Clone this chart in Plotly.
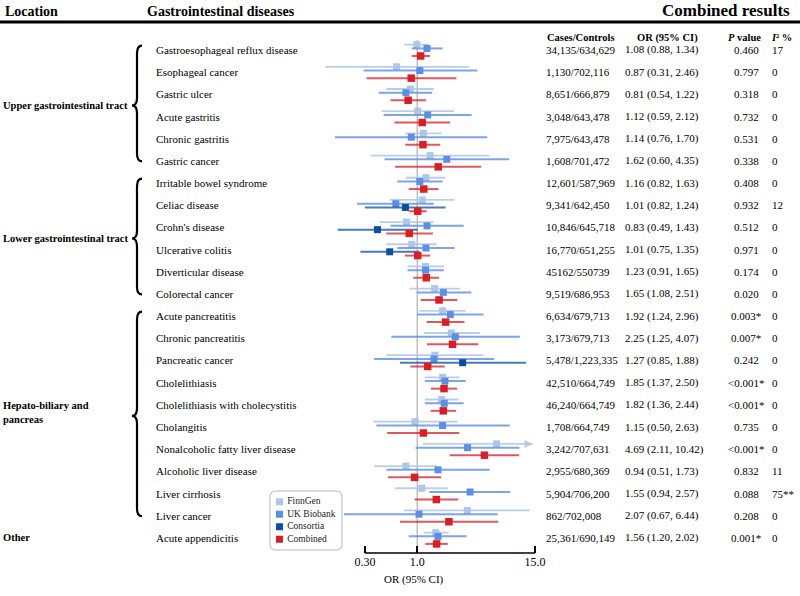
import math
import plotly.graph_objects as go

# ---- data ----
diseases = ["Gastroesophageal reflux disease", "Esophageal cancer", "Gastric ulcer", "Acute gastritis",
            "Chronic gastritis", "Gastric cancer", "Irritable bowel syndrome", "Celiac disease",
            "Crohn's disease", "Ulcerative colitis", "Diverticular disease", "Colorectal cancer",
            "Acute pancreatitis", "Chronic pancreatitis", "Pancreatic cancer", "Cholelithiasis",
            "Cholelithiasis with cholecystitis", "Cholangitis", "Nonalcoholic fatty liver disease",
            "Alcoholic liver disease", "Liver cirrhosis", "Liver cancer", "Acute appendicitis"]

cases_controls = ["34,135/634,629", "1,130/702,116", "8,651/666,879", "3,048/643,478", "7,975/643,478",
                  "1,608/701,472", "12,601/587,969", "9,341/642,450", "10,846/645,718", "16,770/651,255",
                  "45162/550739", "9,519/686,953", "6,634/679,713", "3,173/679,713", "5,478/1,223,335",
                  "42,510/664,749", "46,240/664,749", "1,708/664,749", "3,242/707,631", "2,955/680,369",
                  "5,904/706,200", "862/702,008", "25,361/690,149"]

comb_or = [1.08, 0.87, 0.81, 1.12, 1.14, 1.62, 1.16, 1.01, 0.83, 1.01, 1.23, 1.65,
           1.92, 2.25, 1.27, 1.85, 1.82, 1.15, 4.69, 0.94, 1.55, 2.07, 1.56]
comb_lo = [0.88, 0.31, 0.54, 0.59, 0.76, 0.60, 0.82, 0.82, 0.49, 0.75, 0.91, 1.08,
           1.24, 1.25, 0.85, 1.37, 1.36, 0.50, 2.11, 0.51, 0.94, 0.67, 1.20]
comb_hi = [1.34, 2.46, 1.22, 2.12, 1.70, 4.35, 1.63, 1.24, 1.43, 1.35, 1.65, 2.51,
           2.96, 4.07, 1.88, 2.50, 2.44, 2.63, 10.42, 1.73, 2.57, 6.44, 2.02]
p_values = ["0.460", "0.797", "0.318", "0.732", "0.531", "0.338", "0.408", "0.932", "0.512", "0.971",
            "0.174", "0.020", "0.003*", "0.007*", "0.242", "<0.001*", "<0.001*", "0.735", "<0.001*",
            "0.832", "0.088", "0.208", "0.001*"]
i2 = ["17", "0", "0", "0", "0", "0", "0", "12", "0", "0", "0", "0",
      "0", "0", "0", "0", "0", "0", "0", "11", "75**", "0", "0"]

fin_or = [0.99, 0.62, 0.85, 1.01, 1.15, 1.34, 1.22, 1.12, 0.78, 0.88, 1.21, 1.49,
          1.79, 2.19, 1.50, 1.79, 1.75, 0.95, 6.2, 0.77, 1.11, 3.16, 1.53]
fin_lo = [0.74, 0.12, 0.49, 0.44, 0.76, 0.34, 0.77, 0.53, 0.42, 0.49, 0.80, 0.84,
          1.05, 1.17, 0.49, 1.19, 1.19, 0.36, 1.14, 0.37, 0.60, 0.74, 1.16]
fin_hi = [1.29, 3.28, 1.47, 2.33, 1.75, 5.25, 1.92, 2.36, 1.46, 1.56, 1.86, 2.65,
          3.05, 4.24, 4.60, 2.65, 2.58, 2.53, 14.2, 1.56, 2.01, 13.4, 2.06]

ukb_or = [1.25, 1.06, 0.77, 1.27, 0.87, 1.97, 1.06, 0.61, 1.25, 1.22, 1.21, 1.82,
          2.14, 2.40, 1.47, 1.89, 1.86, 1.79, 3.18, 1.61, 3.37, 1.04, 1.61]
ukb_lo = [0.88, 0.29, 0.41, 0.46, 0.15, 0.47, 0.63, 0.25, 0.54, 0.63, 0.80, 0.99,
          1.00, 0.55, 0.37, 1.19, 1.19, 0.39, 0.96, 0.49, 1.32, 0.10, 0.82]
ukb_hi = [1.79, 3.98, 1.41, 3.49, 5.00, 8.30, 1.79, 1.46, 2.91, 2.36, 1.84, 3.47,
          4.60, 10.6, 5.85, 3.05, 2.91, 8.40, 10.5, 5.30, 8.50, 6.36, 3.11]

con_names = ["Celiac disease", "Crohn's disease", "Ulcerative colitis", "Pancreatic cancer"]
con_or = [0.76, 0.40, 0.53, 2.84]
con_lo = [0.30, 0.16, 0.27, 0.67]
con_hi = [1.92, 1.01, 1.05, 12.2]

# FinnGen CI truncated with an arrow
arrow_row = "Nonalcoholic fatty liver disease"

groups = [("Upper gastrointestinal tract", 0, 5), ("Lower gastrointestinal tract", 6, 11),
          ("Hepato-biliary and<br>pancreas", 12, 21), ("Other", 22, 22)]

studies = ["FinnGen", "UK Biobank", "Consortia", "Combined"]
marker_col = ["#aec6e8", "#5b8fe3", "#0c4ea2", "#d61f26"]
line_col = ["rgba(174,198,232,0.85)", "rgba(91,143,227,0.8)", "rgba(12,78,162,0.75)", "rgba(214,31,38,0.75)"]
offsets = [-0.24, -0.07, 0.10, 0.27]

FONT = "Liberation Serif"
W, H = 800, 596


def px(x):
    return x / W


def py(y):
    return 1 - y / H


rows = list(range(len(diseases)))
fig = go.Figure()


def add_study(k, orv, lo, hi, yrows, size):
    fig.add_trace(go.Scatter(
        x=orv, y=[r + offsets[k] for r in yrows], mode="markers", name=studies[k],
        marker=dict(symbol="square", size=size, color=marker_col[k]),
        error_x=dict(type="data", symmetric=False,
                     array=[h - o for h, o in zip(hi, orv)],
                     arrayminus=[o - l for o, l in zip(orv, lo)],
                     color=line_col[k], thickness=2 if k else 1.8, width=0),
        showlegend=False))


add_study(0, fin_or, fin_lo, fin_hi, rows, 7)
add_study(1, ukb_or, ukb_lo, ukb_hi, rows, 7)
add_study(2, con_or, con_lo, con_hi, [diseases.index(n) for n in con_names], 7)
add_study(3, comb_or, comb_lo, comb_hi, rows, 7.5)

ar = diseases.index(arrow_row)
fig.add_annotation(x=math.log10(fin_hi[ar]), y=ar + offsets[0], xref="x", yref="y",
                   ax=math.log10(fin_hi[ar]) - 0.05, ay=ar + offsets[0], axref="x", ayref="y",
                   showarrow=True, arrowhead=2, arrowsize=1, arrowwidth=1.6, arrowcolor=line_col[0], text="")

# reference line at OR = 1 and the axis bar between the outer ticks
fig.add_shape(type="line", xref="x", yref="paper", x0=1, x1=1, y0=py(553), y1=py(40),
              line=dict(color="#bdbdbd", width=1.5), layer="below")
fig.add_shape(type="line", xref="x", yref="paper", x0=0.3, x1=15, y0=py(553), y1=py(553),
              line=dict(color="black", width=1.5))

# legend: its own small subplot (x2/y2, 1 unit = 1px across, 1 unit = one entry down)
# the box lives in that subplot's lower shape layer: above the forest lines, below the entries
bx0, bx1, by0, by1, rx, ry = -9.5, 62.5, -0.86, 3.86, 6, 0.48
fig.add_shape(type="path", xref="x2", yref="y2", layer="below",
              path=(f"M {bx0 + rx},{by0} L {bx1 - rx},{by0} Q {bx1},{by0} {bx1},{by0 + ry} "
                    f"L {bx1},{by1 - ry} Q {bx1},{by1} {bx1 - rx},{by1} L {bx0 + rx},{by1} "
                    f"Q {bx0},{by1} {bx0},{by1 - ry} L {bx0},{by0 + ry} Q {bx0},{by0} {bx0 + rx},{by0} Z"),
              fillcolor="white", line=dict(color="#cfcfcf", width=1.5))
fig.add_trace(go.Scatter(x=[0] * 4, y=list(range(4)), xaxis="x2", yaxis="y2", mode="markers+text",
                         text=[" " + s for s in studies], textposition="middle right",
                         textfont=dict(family=FONT, size=9.5, color="#222"),
                         marker=dict(symbol="square", size=7, color=marker_col), showlegend=False,
                         cliponaxis=False))

ann = []
ann.append(dict(x=px(3), y=py(11), text="<b>Location</b>", xanchor="left", font=dict(size=14)))
ann.append(dict(x=px(145), y=py(11), text="<b>Gastrointestinal diseases</b>", xanchor="left", font=dict(size=14)))
ann.append(dict(x=px(792), y=py(10), text="<b>Combined results</b>", xanchor="right", font=dict(size=17)))
ann.append(dict(x=px(545), y=py(38), text="<b>Cases/Controls</b>", xanchor="left", font=dict(size=10.5)))
ann.append(dict(x=px(635), y=py(38), text="<b>OR (95% CI)</b>", xanchor="left", font=dict(size=10.5)))
ann.append(dict(x=px(744), y=py(38), text="<b><i>P</i> value</b>", xanchor="center", font=dict(size=10.5)))
ann.append(dict(x=px(769), y=py(38), text="<b><i>I</i>² %</b>", xanchor="left", font=dict(size=10.5)))
ann = [dict(a, xref="paper", yref="paper", showarrow=False, yanchor="middle") for a in ann]

for r in rows:
    cells = [(154, diseases[r], "left"), (544, cases_controls[r], "left"),
             (623, "%.2f (%.2f, %.2f)" % (comb_or[r], comb_lo[r], comb_hi[r]), "left"),
             (746, p_values[r], "center"), (770, i2[r], "left")]
    for x, t, anc in cells:
        ann.append(dict(x=px(x), y=r, xref="paper", yref="y", text=t, xanchor=anc, yanchor="middle",
                        showarrow=False, font=dict(size=11)))

shapes = [dict(type="line", xref="paper", yref="paper", x0=0, x1=1, y0=py(22), y1=py(22),
               line=dict(color="black", width=3))]
for name, a, b in groups:
    mid = (a + b) / 2
    ann.append(dict(x=px(1), y=mid, xref="paper", yref="y", text="<b>%s</b>" % name, xanchor="left",
                    yanchor="middle", align="left", showarrow=False, font=dict(size=10.5),
                    yshift=3 if "<br>" in name else 0))
    if b > a:
        x_end, x_body, x_tip = px(142), px(137), px(132)
        y0, y1, d = a - 0.2, b + 0.02, 0.35
        path = (f"M {x_end},{y0} Q {x_body},{y0} {x_body},{y0 + d} L {x_body},{mid - d} "
                f"Q {x_body},{mid} {x_tip},{mid} Q {x_body},{mid} {x_body},{mid + d} "
                f"L {x_body},{y1 - d} Q {x_body},{y1} {x_end},{y1}")
        shapes.append(dict(type="path", xref="paper", yref="y", path=path, line=dict(color="black", width=2.2)))

ann.append(dict(x=px(414), y=py(588), xref="paper", yref="paper", text="OR (95% CI)", showarrow=False,
                font=dict(size=11)))

for s in shapes:
    fig.add_shape(**s)
for a in ann:
    fig.add_annotation(**a)

fig.update_layout(
    width=W, height=H, margin=dict(l=0, r=0, t=0, b=0),
    paper_bgcolor="white", plot_bgcolor="white",
    font=dict(family=FONT, size=11, color="black"),
    xaxis=dict(type="log", domain=[px(300), px(550)], range=[-1.173, 1.327],
               tickvals=[0.3, 1, 15], ticktext=["0.30", "1.0", "15.0"], ticks="inside", ticklen=7,
               tickwidth=1.5, tickcolor="black", showgrid=False, zeroline=False, showline=False,
               tickfont=dict(size=12), anchor="y"),
    yaxis=dict(domain=[py(553), py(38)], range=[22.68, -0.54], visible=False),
    xaxis2=dict(domain=[px(268), px(344)], range=[-11.5, 64.5], visible=False, anchor="y2"),
    yaxis2=dict(domain=[py(552), py(489)], range=[4.02, -1.02], visible=False, anchor="x2"),
)

# drop the browser's default 8px page margin so the figure sits at the window corner
fig.write_html("out.html", config={"displayModeBar": False},
               post_script="document.body.style.margin='0px';")
